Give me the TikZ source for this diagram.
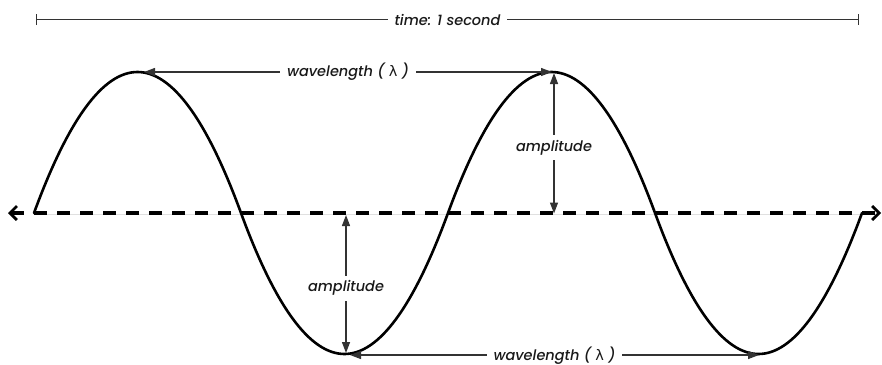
\documentclass[tikz,border=0pt]{standalone}
\usepackage{fontspec}
\IfFontExistsTF{Poppins Medium Italic}
  {\setmainfont{Poppins}[ItalicFont={Poppins Medium Italic}]}
  {\setmainfont{Poppins}[ItalicFeatures={FakeBold=1.5}]}
\newfontfamily\lamfont{DejaVu Sans}
\usetikzlibrary{arrows.meta}
\begin{document}
\begin{tikzpicture}[x=1pt,y=-1pt,
  wave/.style={line width=2.6pt, line cap=round, line join=round},
  axisline/.style={line width=3.4pt, dash pattern=on 13pt off 10pt,
     {Straight Barb[length=7pt,width=14pt,line width=2.8pt]}-{Straight Barb[length=7pt,width=14pt,line width=2.8pt]}},
  dim/.style={line width=1.3pt, draw=black!80},
  dimarrows/.style={dim, {Triangle[length=11pt,width=8pt]}-{Triangle[length=11pt,width=8pt]}},
  barends/.style={dim, {Bar[width=11pt]}-{Bar[width=11pt]}},
  lbl/.style={fill=white, font=\itshape\fontsize{14.5}{17}\selectfont, inner xsep=7pt, inner ysep=1pt, text=black!90}]
\useasboundingbox (0,0) rectangle (882,364);

% named points
\coordinate (c0) at (34,213);
\coordinate (c1) at (241,213);
\coordinate (c2) at (448,213);
\coordinate (c3) at (655,213);
\coordinate (c4) at (862,213);
\coordinate (axL) at (8,213);
\coordinate (axR) at (881,213);
\coordinate (gl0) at (34,214.5);
\coordinate (gl1) at (870,214.5);
\coordinate (tL) at (36,19.5);
\coordinate (tR) at (859,19.5);
\coordinate (w1L) at (144,72);
\coordinate (w1R) at (552,72);
\coordinate (w2L) at (350,355);
\coordinate (w2R) at (759,355);
\coordinate (a1T) at (554,73);
\coordinate (a1B) at (554,213.5);
\coordinate (a2T) at (346,215);
\coordinate (a2B) at (346,353);

% faint base line
\draw[black!12, line width=0.8pt] (gl0) -- (gl1);

% wave (parabolic half arcs)
\draw[wave] (c0) .. controls (103,25) and (172,25) .. (c1)
  .. controls (310,401) and (379,401) .. (c2)
  .. controls (517,25) and (586,25) .. (c3)
  .. controls (724,401) and (793,401) .. (c4);

% dashed axis
\draw[axisline] (axL) -- (axR);

% time
\draw[barends] (tL) -- node[lbl] (tlab) {time: 1 second} (tR);

% wavelengths
\draw[dimarrows] (w1L) -- node[lbl] (wl1) {wavelength ( {\lamfont\upshape λ} )} (w1R);
\draw[dimarrows] (w2L) -- node[lbl, yshift=-0.5pt] (wl2) {wavelength ( {\lamfont\upshape λ} )} (w2R);

% amplitudes
\draw[dimarrows] (a1T) -- node[lbl, pos=0.53, inner xsep=3pt, inner ysep=5pt] (am1) {amplitude} (a1B);
\draw[dimarrows] (a2T) -- node[lbl, pos=0.53, inner xsep=3pt, inner ysep=5pt] (am2) {amplitude} (a2B);
\end{tikzpicture}
\end{document}
